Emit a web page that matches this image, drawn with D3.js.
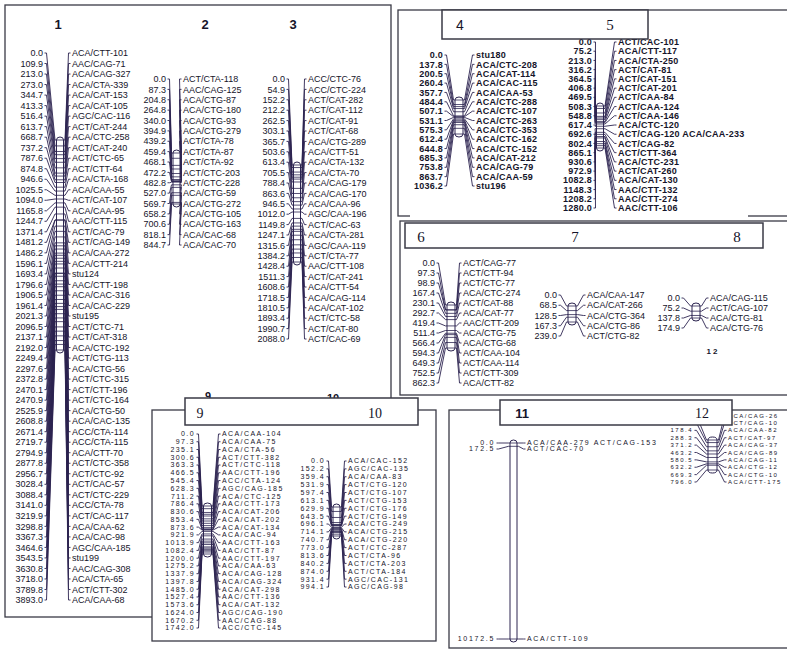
<!DOCTYPE html>
<meta charset="utf-8">
<style>
body { margin: 0; background-color: #FFFFFF; }
svg { display: block; }
</style>
<svg width="787" height="649"></svg>
<script src="https://d3js.org/d3.v7.min.js"></script>
<script>

// linkage groups: marker positions (cM) and marker names, top to bottom
var g1Pos = [0.0,109.9,213.0,273.0,344.7,413.3,516.4,613.7,668.7,737.2,787.6,874.8,946.6,1025.5,1094.0,1165.8,1244.7,1371.4,1481.2,1486.2,1596.1,1693.4,1796.6,1906.5,1961.4,2021.3,2096.5,2137.1,2192.0,2249.4,2297.6,2372.8,2470.1,2470.9,2525.9,2608.8,2671.4,2719.7,2794.9,2877.8,2956.7,3028.4,3088.4,3141.0,3219.9,3298.8,3367.3,3464.6,3543.5,3630.8,3718.0,3789.8,3893.0];
var g1Names = ["ACA/CTT-101","AAC/CAG-71","ACA/CAG-327","ACA/CTA-339","ACA/CAT-153","ACA/CAT-105","AGC/CAC-116","ACT/CAT-244","ACA/CTC-258","ACT/CAT-240","ACT/CTC-65","ACT/CTT-64","ACA/CTA-168","ACA/CAA-55","ACT/CAT-107","ACA/CAA-95","AAC/CTT-115","ACT/CAC-79","ACT/CAG-149","ACA/CAA-272","ACA/CTT-214","stu124","AAC/CTT-198","ACA/CAC-316","ACA/CAC-229","stu195","ACT/CTC-71","ACT/CAT-318","ACA/CTC-192","ACT/CTG-113","ACA/CTG-56","ACT/CTC-315","ACT/CTT-196","ACT/CTC-164","ACA/CTG-50","ACA/CAC-135","ACC/CTA-114","ACC/CTA-115","ACA/CTT-70","ACT/CTC-358","ACT/CTC-92","ACT/CAC-57","ACT/CTC-229","ACC/CTA-78","ACT/CAC-117","ACA/CAA-62","ACA/CAC-98","AGC/CAA-185","stu199","AAC/CAG-308","ACA/CTA-65","ACT/CTT-302","ACA/CAA-68"];

var g2Pos = [0.0,87.3,204.8,264.8,340.0,394.9,439.2,459.4,468.1,472.2,482.8,527.0,569.7,658.2,700.6,818.1,844.7];
var g2Names = ["ACT/CTA-118","AAC/CAG-125","ACA/CTG-87","ACA/CTG-180","ACA/CTG-93","ACA/CTG-279","ACT/CTA-78","ACT/CTA-87","ACT/CTA-92","ACT/CTC-203","ACT/CTC-228","ACA/CTG-59","ACA/CTG-272","ACA/CTG-105","ACA/CTG-163","ACA/CAC-68","ACA/CAC-70"];

var g3Pos = [0.0,54.9,152.2,212.2,262.5,303.1,365.7,503.6,613.4,705.5,788.4,863.6,946.5,1012.0,1149.8,1247.1,1315.6,1384.2,1428.4,1511.3,1608.6,1718.5,1810.5,1893.4,1990.7,2088.0];
var g3Names = ["ACC/CTC-76","ACC/CTC-224","ACT/CAT-282","ACT/CAT-112","ACT/CAT-91","ACT/CAT-68","ACA/CTG-289","ACA/CTT-51","ACA/CTA-132","ACA/CTA-70","ACA/CAG-179","ACA/CAG-170","ACA/CAA-96","AGC/CAA-196","ACT/CAC-63","ACA/CTA-281","AGC/CAA-119","ACT/CTA-77","AAC/CTT-108","ACT/CAT-241","ACA/CTT-54","ACA/CAG-114","ACA/CAT-102","ACT/CTC-58","ACT/CAT-80","ACT/CAC-69"];

var g4Pos = [0.0,137.8,200.5,260.4,357.7,484.4,507.1,531.1,575.3,612.4,644.8,685.3,753.8,863.7,1036.2];
var g4Names = ["stu180","ACA/CTC-208","ACA/CAT-114","ACA/CAC-115","ACA/CAA-53","ACA/CTC-288","ACA/CTC-107","ACA/CTC-263","ACA/CTC-353","ACA/CTC-162","ACA/CTC-152","ACA/CAT-212","ACA/CAG-79","ACA/CAA-59","stu196"];

var g5Pos = [0.0,75.2,213.0,316.2,364.5,406.8,469.5,508.3,548.8,617.4,692.6,802.4,865.1,930.6,972.9,1082.8,1148.3,1208.2,1280.0];
var g5Names = ["ACT/CAC-101","ACA/CTT-117","ACA/CTA-250","ACT/CAT-81","ACT/CAT-151","ACT/CAT-201","ACT/CAA-84","ACT/CAA-124","ACT/CAA-146","ACA/CTC-120","ACT/CAG-120 ACA/CAA-233","ACT/CAG-82","ACT/CTT-364","ACA/CTC-231","ACT/CAT-260","ACA/CAT-130","AAC/CTT-132","AAC/CTT-274","AAC/CTT-106"];

var g6Pos = [0.0,97.3,98.9,167.4,230.1,292.7,419.4,511.4,566.4,594.3,649.3,752.5,862.3];
var g6Names = ["ACT/CAG-77","ACT/CTT-94","ACT/CTC-77","ACA/CTC-274","ACT/CAT-88","ACA/CAT-77","AAC/CTT-209","ACA/CTG-75","ACA/CTG-68","ACT/CAA-104","ACT/CAA-114","ACT/CTT-309","ACA/CTT-82"];

var g7Pos = [0.0,68.5,128.5,167.3,239.0];
var g7Names = ["ACA/CAA-147","ACA/CAT-266","ACA/CTG-364","ACA/CTG-86","ACT/CTG-82"];

var g8Pos = [0.0,75.2,137.8,174.9];
var g8Names = ["ACA/CAG-115","ACT/CAG-107","ACA/CTG-81","ACA/CTG-76"];

var g9Pos = [0.0,97.3,235.1,300.6,363.3,466.5,545.4,628.3,711.2,786.4,830.6,853.4,873.6,921.9,1013.9,1082.4,1200.0,1275.2,1337.9,1397.8,1485.0,1527.4,1573.6,1624.0,1670.2,1742.0];
var g9Names = ["ACA/CAA-104","ACA/CAA-75","ACA/CTA-56","ACT/CTT-382","ACT/CTC-118","AAC/CTT-196","ACC/CTA-124","AGC/CAG-185","ACA/CTC-125","AAC/CTT-173","ACA/CAT-206","ACA/CAT-202","ACA/CAT-134","ACA/CAC-94","AAC/CTT-163","AAC/CTT-87","AAC/CTT-197","ACA/CAA-63","ACA/CAG-128","ACA/CAG-324","ACA/CAT-298","AAC/CTT-136","ACA/CAT-132","AGC/CAG-190","AAC/CAG-88","ACC/CTC-145"];

var g10Pos = [0.0,152.2,359.4,531.9,597.4,613.1,629.9,643.5,696.1,714.1,740.7,773.0,813.6,840.2,874.0,931.4,994.1];
var g10Names = ["ACA/CAC-152","AGC/CAC-135","ACA/CAA-83","ACT/CTG-120","ACT/CTG-107","ACT/CTG-153","ACT/CTG-176","ACT/CTG-149","ACA/CTG-249","ACA/CTG-215","ACA/CTG-220","ACT/CTC-287","ACT/CTA-96","ACT/CTA-203","ACT/CTA-184","AGC/CAC-131","AGC/CAG-98"];

var g11Pos = [0.0,172.5,10172.5];
var g11Names = ["ACA/CAA-279 ACT/CAG-153","ACT/CAC-70","ACA/CTT-109"];

var g12Pos = [0.0,68.5,178.4,288.3,371.2,463.2,580.5,632.2,669.3,796.0];
var g12Names = ["ACA/CAG-26","ACT/CAG-10","ACA/CAA-82","ACT/CAT-97","ACA/CAG-37","ACA/CAG-89","ACA/CAG-11","ACA/CTG-12","ACA/CTG-10","ACA/CTT-175"];

var svg = d3.select("svg");
var ink = "#15142a", lineInk = "#2c2450", frameInk = "#3a3a46";
var sans = "'Liberation Sans', Arial, sans-serif", serif = "'Liberation Serif', 'Times New Roman', serif";

var styles = {
  a: {size: 9, weight: "normal", ls: 0},
  b: {size: 9, weight: "bold", ls: 0.25},
  c: {size: 9, weight: "normal", ls: 0},
  d: {size: 7, weight: "normal", ls: 1.4},
  e: {size: 7, weight: "normal", ls: 1.7},
  f: {size: 6, weight: "normal", ls: 1.5}
};

// panel frames (white filled so later panels cover earlier ones)
function frame(x0, y0, x1, y1) {
  svg.append("rect").attr("x", x0).attr("y", y0).attr("width", x1 - x0).attr("height", y1 - y0)
    .attr("fill", "#fff").attr("stroke", frameInk).attr("stroke-width", 1.3);
}
frame(5, 5, 391, 617);
frame(398, 10, 790, 216);
// the 6-8 sheet is pasted over the bottom edge of the 4/5 frame
svg.append("rect").attr("x", 410).attr("y", 212).attr("width", 338).attr("height", 8).attr("fill", "#fff");
frame(400, 221, 790, 395);

// left-over titles peeking above the 9/10 panel
svg.append("text").attr("x", 208).attr("y", 400).attr("font-family", sans).attr("font-weight", "bold")
  .attr("font-size", 11).attr("fill", ink).attr("text-anchor", "middle").text("9");
svg.append("text").attr("x", 333).attr("y", 402).attr("font-family", sans).attr("font-weight", "bold")
  .attr("font-size", 11).attr("fill", ink).attr("text-anchor", "middle").text("10");

frame(152, 410, 436, 641);
frame(449, 410, 790, 648);

var layout = [
  {pos: g1Pos, names: g1Names, numX: 43, barX: 60, barW: 7, labX: 72, rowTop: 53, rowBot: 600, barTop: 140, barBot: 350, st: "a"},
  {pos: g2Pos, names: g2Names, numX: 166, barX: 176.5, barW: 7, labX: 183, rowTop: 79, rowBot: 245, barTop: 153, barBot: 204, st: "a"},
  {pos: g3Pos, names: g3Names, numX: 285, barX: 297, barW: 7, labX: 308, rowTop: 79, rowBot: 339, barTop: 165, barBot: 262, st: "a"},
  {pos: g4Pos, names: g4Names, numX: 443, barX: 459, barW: 8, labX: 476, rowTop: 55, rowBot: 186, barTop: 100, barBot: 134, st: "b"},
  {pos: g5Pos, names: g5Names, numX: 592, barX: 600, barW: 7, labX: 618, rowTop: 42, rowBot: 208, barTop: 106, barBot: 148, st: "b"},
  {pos: g6Pos, names: g6Names, numX: 435, barX: 451, barW: 8, labX: 463, rowTop: 263, rowBot: 383, barTop: 305, barBot: 348, st: "c"},
  {pos: g7Pos, names: g7Names, numX: 557, barX: 572, barW: 8, labX: 587, rowTop: 295, rowBot: 336, barTop: 306, barBot: 322, st: "c"},
  {pos: g8Pos, names: g8Names, numX: 680, barX: 696, barW: 8, labX: 710, rowTop: 298, rowBot: 328, barTop: 306, barBot: 318, st: "c"},
  {pos: g9Pos, names: g9Names, numX: 195, barX: 207.5, barW: 8, labX: 222, rowTop: 434, rowBot: 628, barTop: 506, barBot: 554, st: "d"},
  {pos: g10Pos, names: g10Names, numX: 325, barX: 336.5, barW: 7, labX: 348, rowTop: 461, rowBot: 587, barTop: 507, barBot: 536, st: "d"},
  {pos: g11Pos, names: g11Names, numX: 495, barX: 513.5, barW: 7, labX: 527, spread: 6, barTop: 443, barBot: 639, st: "e"},
  {pos: g12Pos, names: g12Names, numX: 693, barX: 712.5, barW: 9, labX: 728, rowTop: 415.6, rowBot: 482, barTop: 440, barBot: 470, st: "f"}
];

function drawGroup(c) {
  var s = styles[c.st];
  var max = d3.max(c.pos);
  var y = d3.scaleLinear().domain([0, max]).range([c.barTop, c.barBot]);
  var rows = [];
  if (c.spread) {
    c.pos.forEach(function(p, i) {
      var v = y(p);
      if (i && v < rows[i - 1] + c.spread) v = rows[i - 1] + c.spread;
      rows.push(v);
    });
  } else {
    var r = d3.scalePoint().domain(d3.range(c.pos.length)).range([c.rowTop, c.rowBot]);
    rows = c.pos.map(function(p, i) { return r(i); });
  }
  var bl = c.barX - c.barW / 2, br = c.barX + c.barW / 2;
  var g = svg.append("g");

  g.selectAll("path.left").data(c.pos).join("path")
    .attr("class", "left")
    .attr("fill", "none").attr("stroke", lineInk).attr("stroke-width", 0.9)
    .attr("d", function(d, i) { return "M" + (c.numX + 1.5) + "," + rows[i] + "h2L" + (bl - 1.5) + "," + y(d) + "H" + bl; });
  g.selectAll("path.right").data(c.pos).join("path")
    .attr("class", "right")
    .attr("fill", "none").attr("stroke", lineInk).attr("stroke-width", 0.9)
    .attr("d", function(d, i) { return "M" + (c.labX - 1.5) + "," + rows[i] + "h-2L" + (br + 1.5) + "," + y(d) + "H" + br; });

  g.append("rect")
    .attr("x", bl).attr("y", y(0) - 3)
    .attr("width", c.barW).attr("height", y(max) - y(0) + 6)
    .attr("rx", c.barW / 2).attr("ry", 3)
    .attr("fill", "#fff").attr("stroke", lineInk).attr("stroke-width", 1);

  g.selectAll("line.tick").data(c.pos).join("line")
    .attr("class", "tick")
    .attr("x1", bl).attr("x2", br)
    .attr("y1", function(d) { return y(d); }).attr("y2", function(d) { return y(d); })
    .attr("stroke", lineInk).attr("stroke-width", 0.8);

  g.selectAll("text.num").data(c.pos).join("text")
    .attr("class", "num")
    .attr("x", c.numX).attr("y", function(d, i) { return rows[i]; })
    .attr("dy", "0.35em").attr("text-anchor", "end")
    .attr("font-family", sans).attr("font-size", s.size).attr("font-weight", s.weight)
    .attr("letter-spacing", s.ls).attr("fill", ink)
    .text(function(d) { return d.toFixed(1); });

  g.selectAll("text.name").data(c.names).join("text")
    .attr("class", "name")
    .attr("x", c.labX).attr("y", function(d, i) { return rows[i]; })
    .attr("dy", "0.35em")
    .attr("font-family", sans).attr("font-size", s.size).attr("font-weight", s.weight)
    .attr("letter-spacing", s.ls).attr("fill", ink)
    .text(function(d) { return d; });
}

layout.forEach(drawGroup);

// title boxes
function titleBox(x0, y0, x1, y1) {
  svg.append("rect").attr("x", x0).attr("y", y0).attr("width", x1 - x0).attr("height", y1 - y0)
    .attr("fill", "#fff").attr("stroke", frameInk).attr("stroke-width", 1.5);
}
titleBox(442, 10, 648, 39);
titleBox(405, 223, 763, 248);
titleBox(185, 398, 418, 425);
titleBox(500, 400, 732, 425);

var titles = [
  {t: "1", x: 58, y: 29, f: sans, s: 13, w: "bold"},
  {t: "2", x: 205, y: 29, f: sans, s: 13, w: "bold"},
  {t: "3", x: 293, y: 29, f: sans, s: 13, w: "bold"},
  {t: "4", x: 460, y: 30, f: sans, s: 14, w: "normal"},
  {t: "5", x: 610, y: 30, f: serif, s: 15, w: "normal"},
  {t: "6", x: 421, y: 242, f: serif, s: 15, w: "normal"},
  {t: "7", x: 575, y: 242, f: serif, s: 15, w: "normal"},
  {t: "8", x: 737, y: 242, f: serif, s: 15, w: "normal"},
  {t: "1 2", x: 712, y: 354, f: sans, s: 8, w: "bold"},
  {t: "9", x: 200, y: 418, f: serif, s: 14, w: "normal"},
  {t: "10", x: 375, y: 418, f: serif, s: 14, w: "normal"},
  {t: "11", x: 522, y: 418, f: sans, s: 13, w: "bold"},
  {t: "12", x: 702, y: 418, f: serif, s: 14, w: "normal"}
];
svg.selectAll("text.title").data(titles).join("text")
  .attr("class", "title")
  .attr("x", function(d) { return d.x; }).attr("y", function(d) { return d.y; })
  .attr("text-anchor", "middle")
  .attr("font-family", function(d) { return d.f; })
  .attr("font-size", function(d) { return d.s; })
  .attr("font-weight", function(d) { return d.w; })
  .attr("fill", ink)
  .text(function(d) { return d.t; });

</script>
